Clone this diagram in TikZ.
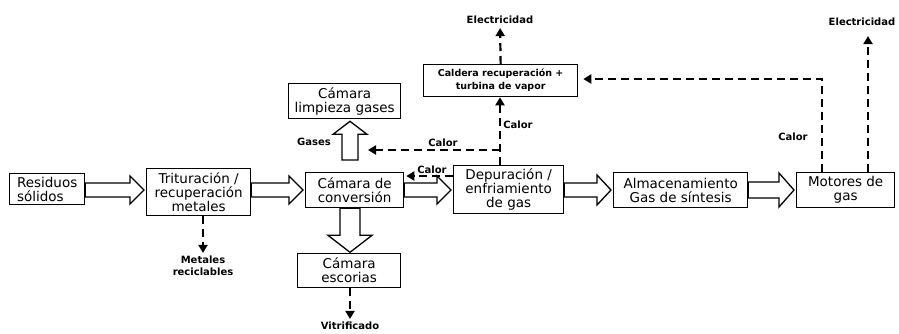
\documentclass[tikz,border=0pt]{standalone}
\usepackage{fontspec}
\setmainfont{DejaVu Sans}
\usetikzlibrary{calc,arrows.meta}
\newcommand\blkarr[5]{%
  \coordinate (ba1) at (#1);
  \coordinate (ba2) at (#2);
  \coordinate (bah) at ($(ba2)!#5!(ba1)$);
  \draw[blockarr] ($(ba1)!#3!90:(ba2)$) -- ($(bah)!#3!90:(ba2)$) -- ($(bah)!#4!90:(ba2)$)
    -- (ba2) -- ($(bah)!#4!-90:(ba2)$) -- ($(bah)!#3!-90:(ba2)$) -- ($(ba1)!#3!-90:(ba2)$) -- cycle;
}
\tikzset{
  box/.style={draw, line width=1.3pt, fill=white, align=center, inner sep=1pt,
    anchor=north west, font=\fontsize{13.5}{14}\selectfont},
  blockarr/.style={draw, line width=1.3pt, fill=white, line join=miter},
  lbl/.style={inner sep=0pt, align=center, font=\fontsize{10}{12}\selectfont\bfseries},
  dasharr/.style={line width=2.2pt, dash pattern=on 8pt off 5pt,
    -{Triangle[length=8pt,width=9pt]}},
}
\begin{document}
\begin{tikzpicture}[x=1pt,y=-1pt]
\useasboundingbox[fill=white] (0,0) rectangle (899,333);
% boxes
\node[box, minimum width=75pt, minimum height=31pt, align=left] (res) at (9,173) {Residuos\\sólidos};
\node[box, minimum width=104pt, minimum height=47pt] (tri) at (146,168) {Trituración /\\recuperación\\metales};
\node[box, minimum width=98pt, minimum height=35pt] (conv) at (305,172) {Cámara de\\conversión};
\node[box, minimum width=110pt, minimum height=48pt] (dep) at (453,165) {Depuración /\\enfriamiento\\de gas};
\node[box, minimum width=134pt, minimum height=35pt] (alm) at (613,172) {Almacenamiento\\Gas de síntesis};
\node[box, minimum width=98pt, minimum height=35pt] (mot) at (796,172) {Motores de\\gas};
\node[box, minimum width=112pt, minimum height=35pt] (lim) at (288,83) {Cámara\\limpieza gases};
\node[box, minimum width=103pt, minimum height=34pt] (esc) at (297,253) {Cámara\\escorias};
\node[box, minimum width=154pt, minimum height=32pt, font=\fontsize{9.5}{13}\selectfont\bfseries] (cal) at (423,64) {Caldera recuperación +\\turbina de vapor};
% labels
\node[lbl] (met) at (203,266) {Metales\\reciclables};
\node[lbl] (vit) at (350,326) {Vitrificado};
\node[lbl] (gases) at (314,142) {Gases};
\node[lbl] (c1) at (443,143) {Calor};
\node[lbl] (c2) at (432,170) {Calor};
\node[lbl] (c3) at (518,125) {Calor};
\node[lbl] (c4) at (793,137) {Calor};
\node[lbl] (e1) at (500,20) {Electricidad};
\node[lbl] (e2) at (862,22) {Electricidad};
% helper coordinates
\coordinate (rowy) at (0,190);
\coordinate (colx) at (350,0);
\coordinate (cy) at (0,176);
\coordinate (calorj) at (500,150);
\coordinate (gasR) at (368,150);
\coordinate (m1) at (822,79);
\coordinate (m2) at (868,0);
% block arrows
\blkarr{res.east|-rowy}{$(tri.west|-rowy)+(-2,0)$}{7pt}{14pt}{14pt}
\blkarr{tri.east|-rowy}{$(conv.west|-rowy)+(-2,0)$}{7pt}{14pt}{14pt}
\blkarr{conv.east|-rowy}{$(dep.west|-rowy)+(-2,0)$}{7pt}{14pt}{14pt}
\blkarr{dep.east|-rowy}{$(alm.west|-rowy)+(-2,0)$}{7pt}{15pt}{14pt}
\blkarr{alm.east|-rowy}{$(mot.west|-rowy)+(-2,0)$}{8pt}{17pt}{15pt}
\blkarr{$(conv.north-|colx)+(0,-12)$}{$(lim.south-|colx)+(0,2)$}{8pt}{17pt}{13pt}
\blkarr{conv.south-|colx}{$(esc.south-|colx)+(0,-36)$}{10pt}{22pt}{17pt}
% dashed connectors
\draw[dasharr, shorten >=3pt] (tri.south-|met.north) -- (met.north);
\draw[dasharr, shorten >=3pt] (esc.south-|vit.north) -- (vit.north);
\draw[dasharr, shorten >=2pt] (dep.west|-cy) -- (conv.east|-cy);
\draw[dasharr] (dep.north-|calorj) -- (cal.south-|calorj);
\draw[dasharr] (calorj) -- (gasR);
\draw[dasharr, shorten >=4pt] (cal.north) -- (e1.south);
\draw[dasharr, shorten >=5pt] (mot.north-|m1) -- (m1) -- (cal.east|-m1);
\draw[dasharr, shorten >=10pt] (mot.north-|m2) -- (e2.south-|m2);
\end{tikzpicture}
\end{document}
